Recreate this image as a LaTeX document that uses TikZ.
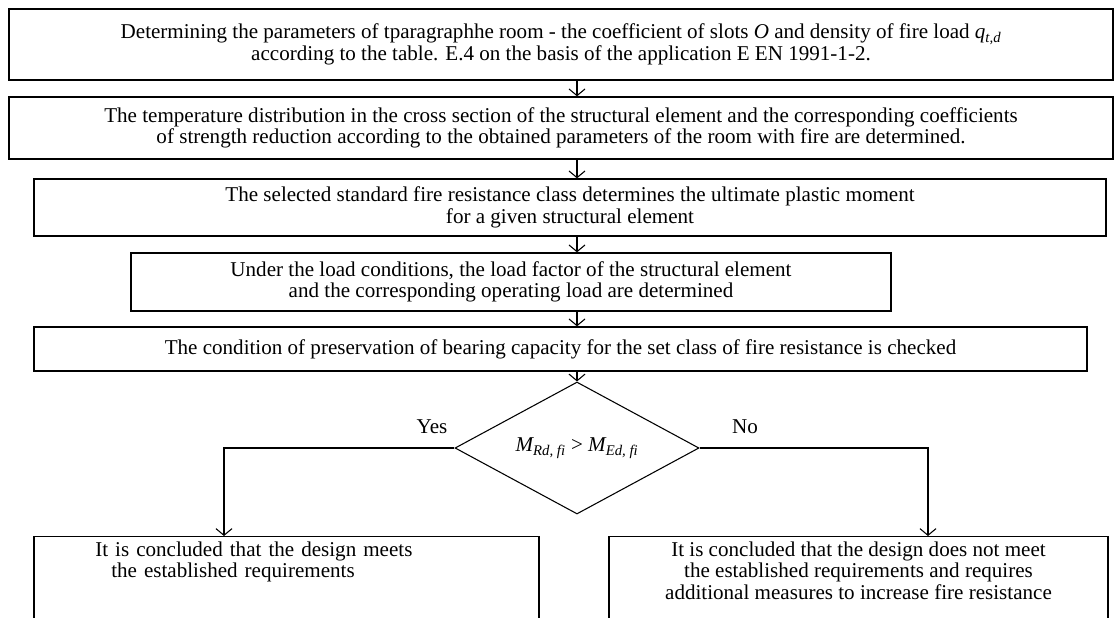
\documentclass[tikz,border=0pt]{standalone}
\usepackage{fontspec}
\setmainfont{Liberation Serif}
\usetikzlibrary{arrows.meta,shapes.geometric}

\begin{document}
\begin{tikzpicture}[x=0.75pt,y=-0.75pt,
		>={Straight Barb[length=5pt,width=12pt]},
		every node/.style={font=\fontsize{15.8}{16}\selectfont},
		stepbox/.style={draw,line width=1pt,align=center,inner sep=0pt},
		flow/.style={->,line width=0.8pt}]
	\useasboundingbox (0,0) rectangle (1115,618);
	\clip (0,0) rectangle (1115,618);

	\node[stepbox,minimum width=828pt,minimum height=53.25pt] (params) at (561,44.5)
		{Determining the parameters of tparagraphhe room - the coefficient of slots \textit{O} and density of fire load \textit{q\textsubscript{t,d}}\\
		according to the table. E.4 on the basis of the application E EN 1991-1-2.};
	\node[stepbox,minimum width=828pt,minimum height=46.5pt] (temper) at (561,128)
		{The temperature distribution in the cross section of the structural element and the corresponding coefficients\\
		of strength reduction according to the obtained parameters of the room with fire are determined.};
	\node[stepbox,minimum width=804pt,minimum height=42.75pt] (moment) at (570,207.5)
		{The selected standard fire resistance class determines the ultimate plastic moment\\
		for a given structural element};
	\node[stepbox,minimum width=570pt,minimum height=43.5pt] (loadf) at (511,282)
		{Under the load conditions, the load factor of the structural element\\
		and the corresponding operating load are determined};
	\node[stepbox,minimum width=789.75pt,minimum height=33pt] (cond) at (560.5,349)
		{The condition of preservation of bearing capacity for the set class of fire resistance is checked};

	\node[draw,diamond,shape aspect=1.85,line width=0.8pt,inner sep=0pt,minimum width=183pt,minimum height=99pt] (check) at (577,448)
		{\textit{M\textsubscript{Rd, fi} {\upshape >} M\textsubscript{Ed, fi}}};

	\node[stepbox,align=left,text width=378.75pt,anchor=north,inner ysep=4pt,text depth=80pt] (meets) at (286.5,536)
		{\hspace*{46pt}It is concluded that the design meets\\
		\hspace*{58pt}the established requirements};
	\node[stepbox,anchor=north,minimum width=374.25pt,inner ysep=4pt,text depth=80pt] (fails) at (858.5,536)
		{It is concluded that the design does not meet\\
		the established requirements and requires\\
		additional measures to increase fire resistance};

	\node (yes) at (432,427) {Yes};
	\node (no) at (745,427) {No};

	\foreach \a/\b in {params/temper,temper/moment,moment/loadf,loadf/cond}
		\draw[flow] (\a.south -| check.north) -- (\b.north -| check.north);
	\draw[flow] (cond.south -| check.north) -- (check.north);
	\draw[flow] (check.west) -| ([xshift=-46.9pt]meets.north);
	\draw[flow] (check.east) -| ([xshift=52.1pt]fails.north);
\end{tikzpicture}
\end{document}
